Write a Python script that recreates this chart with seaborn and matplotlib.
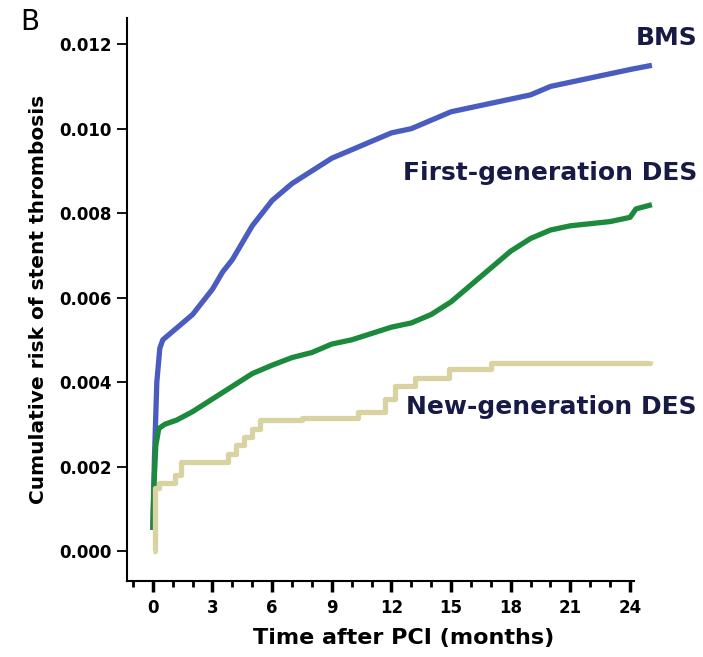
import numpy as np
import pandas as pd
import matplotlib
matplotlib.use("Agg")
import matplotlib.pyplot as plt
import seaborn as sns
from matplotlib.ticker import MultipleLocator

# ---- data ----
bms_months = [0, 0.08, 0.2, 0.35, 0.5, 1.0, 1.5, 2.0, 2.5, 3.0, 3.5, 4.0, 4.5, 5.0,
              5.5, 6.0, 7.0, 8.0, 9.0, 10, 11, 12, 13, 14, 15, 16, 17, 18, 19, 20,
              21, 22, 23, 24, 25.1]
bms_risk = [0.0005, 0.0022, 0.0040, 0.0048, 0.0050, 0.0052, 0.0054, 0.0056, 0.0059,
            0.0062, 0.0066, 0.0069, 0.0073, 0.0077, 0.0080, 0.0083, 0.0087, 0.0090,
            0.0093, 0.0095, 0.0097, 0.0099, 0.0100, 0.0102, 0.0104, 0.0105, 0.0106,
            0.0107, 0.0108, 0.0110, 0.0111, 0.0112, 0.0113, 0.0114, 0.0115]

first_months = [0, 0.05, 0.15, 0.3, 0.6, 1.2, 2, 3, 4, 5, 6, 7, 8, 9, 10, 11, 12, 13,
                14, 15, 16, 17, 18, 19, 20, 21, 22, 23, 24, 24.3, 25.1]
first_risk = [0.0005, 0.0015, 0.0025, 0.0029, 0.0030, 0.0031, 0.0033, 0.0036, 0.0039,
              0.0042, 0.0044, 0.00458, 0.0047, 0.0049, 0.0050, 0.00515, 0.0053, 0.0054,
              0.0056, 0.0059, 0.0063, 0.0067, 0.0071, 0.0074, 0.0076, 0.0077, 0.00775,
              0.0078, 0.0079, 0.0081, 0.0082]

new_months = [0, 0.1, 0.3, 0.9, 1.1, 1.4, 3.4, 3.8, 4.2, 4.6, 5.0, 5.4, 7.5, 10.3,
              11.7, 12.2, 13.2, 14.9, 17.0, 25.0]
new_risk = [0.0000, 0.0015, 0.0016, 0.0016, 0.0018, 0.0021, 0.0021, 0.0023, 0.0025,
            0.0027, 0.0029, 0.0031, 0.00315, 0.0033, 0.0036, 0.0039, 0.0041,
            0.0043, 0.00445, 0.0045]

series_names = ["BMS", "First-generation DES", "New-generation DES"]
colors = ["#4a5cc0", "#1c8a3c", "#d9d3a2"]
x_ticks = [0, 3, 6, 9, 12, 15, 18, 21, 24]
y_ticks = [0.000, 0.002, 0.004, 0.006, 0.008, 0.010, 0.012]

sns.set_theme(style="ticks")
plt.rcParams["font.family"] = ["DejaVu Sans"]

fig = plt.figure(figsize=(7.03, 6.57), dpi=100)
ax = fig.add_axes([127 / 703, 76 / 657, (634 - 127) / 703, (581 - 18) / 657])

lw = 3.8
sns.lineplot(x=bms_months, y=bms_risk, ax=ax, color=colors[0], linewidth=lw)
sns.lineplot(x=first_months, y=first_risk, ax=ax, color=colors[1], linewidth=lw)
sns.lineplot(x=new_months, y=new_risk, ax=ax, color=colors[2], linewidth=lw,
             drawstyle="steps-post")
for ln in ax.lines:
    ln.set_clip_on(False)
    ln.set_solid_joinstyle("round")
    ln.set_solid_capstyle("butt")

ax.set_xlim(-1.3, 24.2)
ax.set_ylim(-0.00071, 0.01262)
ax.set_xticks(x_ticks)
ax.set_xticklabels([str(t) for t in x_ticks])
ax.xaxis.set_minor_locator(MultipleLocator(1))
ax.set_yticks(y_ticks)
ax.set_yticklabels([f"{t:.3f}" for t in y_ticks])

for s in ["top", "right"]:
    ax.spines[s].set_visible(False)
for s in ["left", "bottom"]:
    ax.spines[s].set_linewidth(1.5)
    ax.spines[s].set_color("black")

ax.tick_params(axis="x", which="major", length=8, width=2.5, direction="out",
               labelsize=12, pad=5, color="black", labelcolor="black")
ax.tick_params(axis="x", which="minor", length=4, width=2, direction="out", color="black")
ax.tick_params(axis="y", which="major", length=7, width=1.3, direction="out",
               labelsize=12, pad=4, color="black", labelcolor="black")
for lab in ax.get_xticklabels() + ax.get_yticklabels():
    lab.set_fontweight("bold")

ax.set_xlabel("Time after PCI (months)", fontsize=16, fontweight="bold", color="black")
ax.xaxis.set_label_coords((404 - 127) / (634 - 127), -0.084)
ax.set_ylabel("Cumulative risk of stent thrombosis", fontsize=14.5, fontweight="bold",
              color="black", labelpad=8)

txt_color = "#161a45"
fig.text(697 / 703, 1 - 38 / 657, series_names[0], ha="right", va="center",
         fontsize=18, fontweight="bold", color=txt_color)
fig.text(697 / 703, 1 - 173 / 657, series_names[1], ha="right", va="center",
         fontsize=18, fontweight="bold", color=txt_color)
fig.text(697 / 703, 1 - 407 / 657, series_names[2], ha="right", va="center",
         fontsize=18, fontweight="bold", color=txt_color)
fig.text(20 / 703, 1 - 22 / 657, "B", ha="left", va="center", fontsize=20,
         color="black")

fig.savefig("out.png", dpi=100, facecolor="white")
